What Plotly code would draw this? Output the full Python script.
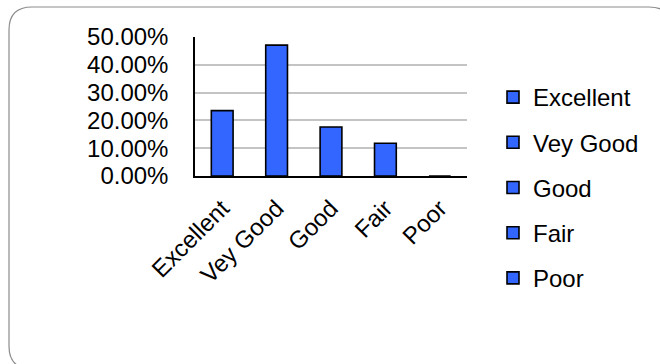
import plotly.graph_objects as go

categories = ["Excellent", "Vey Good", "Good", "Fair", "Poor"]
shares = [0.2353, 0.4706, 0.1765, 0.1176, 0.0]
y_ticks = [0, 0.1, 0.2, 0.3, 0.4, 0.5]

W, H = 660, 364
L, R, T, B = 195, 193, 37, 188
PW, PH = W - L - R, H - T - B

def px(x):
    return (x - L) / PW

def py(y):
    return (H - B - y) / PH

BAR_COLOR = "#3366ff"
FONT = "Liberation Sans, Arial, sans-serif"
FS = 24

fig = go.Figure()
for cat, val in zip(categories, shares):
    fig.add_trace(go.Bar(
        x=[cat], y=[val], name=cat, legendgroup=cat,
        width=0.4,
        marker=dict(color=BAR_COLOR, line=dict(color="#000000", width=1.6)),
    ))

# rounded chart-area border (Excel style)
l0, t0, r0, b0, rr = 9, 7, 672, 369, 23
path = (
    f"M {px(l0)},{py(t0+rr)} Q {px(l0)},{py(t0)} {px(l0+rr)},{py(t0)} "
    f"L {px(r0-rr)},{py(t0)} Q {px(r0)},{py(t0)} {px(r0)},{py(t0+rr)} "
    f"L {px(r0)},{py(b0-rr)} Q {px(r0)},{py(b0)} {px(r0-rr)},{py(b0)} "
    f"L {px(l0+rr)},{py(b0)} Q {px(l0)},{py(b0)} {px(l0)},{py(b0-rr)} Z"
)
fig.add_shape(type="path", path=path, xref="paper", yref="paper",
              line=dict(color="#8c8c8c", width=1.2), layer="below")

fig.update_layout(
    width=W, height=H,
    margin=dict(l=L, r=R, t=T, b=B, autoexpand=False),
    paper_bgcolor="white", plot_bgcolor="white",
    barmode="overlay",
    showlegend=True,
    font=dict(family=FONT, size=FS, color="#000000"),
    legend=dict(
        x=px(493), xanchor="left", y=py(75), yanchor="top",
        font=dict(family=FONT, size=FS, color="#000000"),
        tracegroupgap=11, itemclick=False, bgcolor="rgba(0,0,0,0)",
        maxheight=340,
    ),
    xaxis=dict(
        categoryorder="array", categoryarray=categories,
        showline=True, linecolor="#000000", linewidth=1.5,
        tickangle=-45, ticks="", showgrid=False, ticklabelstandoff=7,
        tickfont=dict(family=FONT, size=FS, color="#000000"),
    ),
    yaxis=dict(
        range=[0, 0.5], tickvals=y_ticks, tickformat=".2%",
        showline=True, linecolor="#000000", linewidth=1.5,
        showgrid=True, gridcolor="#c4c4c4", gridwidth=1.5,
        zeroline=False, ticks="", ticklabelstandoff=20,
        tickfont=dict(family=FONT, size=FS, color="#000000"),
    ),
)

fig.write_html("out.html", config={"displayModeBar": False},
               post_script="document.body.style.margin='0';")
